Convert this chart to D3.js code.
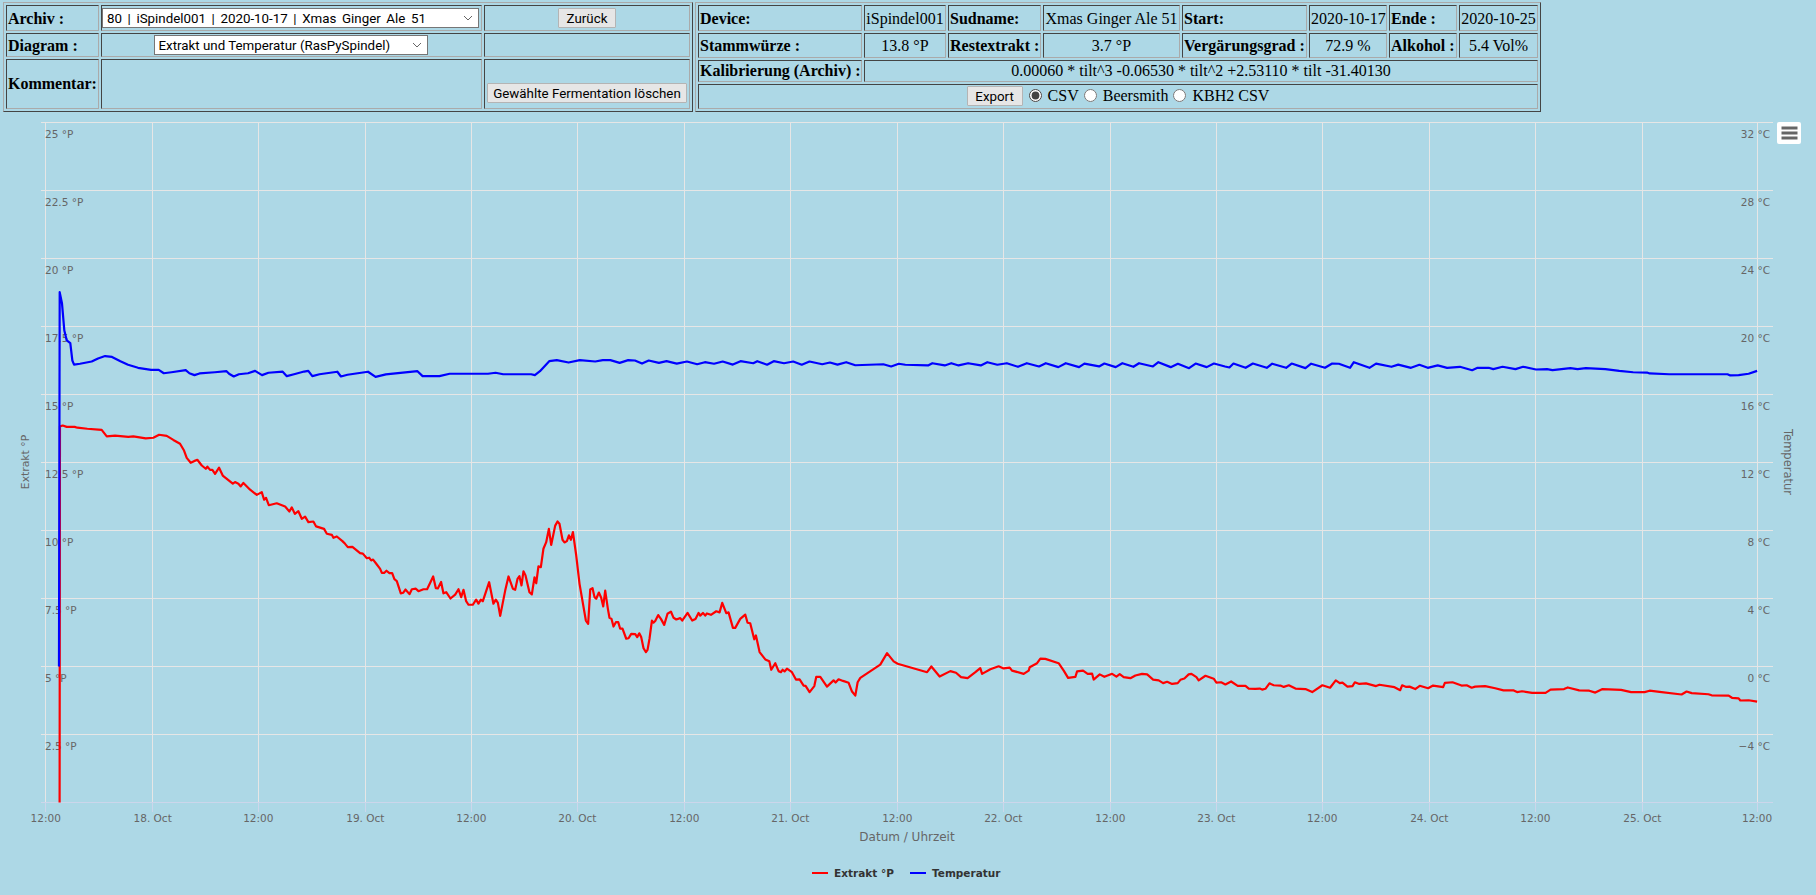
<!DOCTYPE html>
<html>
<head>
<meta charset="utf-8">
<title>Archiv</title>
<script src="https://cdn.jsdelivr.net/npm/d3@7"></script>
<style>
  html, body { margin: 0; padding: 0; background: #add8e6; overflow: hidden; }
  body { width: 1816px; height: 895px; position: relative; font-family: "Liberation Serif", serif; font-size: 16px; color: #000; }
  table.head { position: absolute; top: 2px; height: 110px; table-layout: fixed; border-collapse: separate; border-spacing: 2px; border: 1px solid; border-color: #aaa #444 #444 #aaa; box-sizing: border-box; }
  table.head td { border: 1px solid; border-color: #444 #aaa #aaa #444; padding: 0 1px; box-sizing: border-box; text-align: center; white-space: nowrap; overflow: hidden; }
  table.head td.l { text-align: left; font-weight: bold; }
  table.head tr.low td { padding-top: 2px; }
  select { appearance: none; -webkit-appearance: none; font: 13.33px Roboto, sans-serif; background: #fff url("data:image/svg+xml,%3Csvg xmlns='http://www.w3.org/2000/svg' width='10' height='6'%3E%3Cpath d='M1 1l4 4 4-4' fill='none' stroke='%23666' stroke-width='1'/%3E%3C/svg%3E") no-repeat right 5px center; border: 1px solid #767676; border-radius: 0; box-sizing: border-box; height: 20px; padding: 0 0 0 4px; margin: 0; color: #000; position: relative; left: -1px; }
  button { font: 13.33px Roboto, sans-serif; background: #e6e6e6; border: 1px solid #b4b4b4; border-radius: 1px; box-sizing: border-box; height: 20px; padding: 0; color: #000; }
  input[type=radio] { margin: 0 6px 0 5px; vertical-align: -1px; accent-color: #444; }
  #chart { position: absolute; left: 0; top: 0; }
  #chart text { font-family: "DejaVu Sans", sans-serif; }
  .grid line { stroke: #e6e6e6; stroke-width: 1; shape-rendering: crispEdges; }
  .grid .domain { display: none; }
  .tick-label { fill: #666; font-size: 10.5px; }
</style>
</head>
<body>
<svg id="chart" width="1816" height="895"></svg>

<table class="head" style="left:3px;width:690px">
  <colgroup><col style="width:93px"><col style="width:381px"><col style="width:206px"></colgroup>
  <tr class="low" style="height:26px">
    <td class="l">Archiv :</td>
    <td style="padding-top:0"><select style="width:377px;word-spacing:2.3px"><option>80 | iSpindel001 | 2020-10-17 | Xmas Ginger Ale 51</option></select></td>
    <td style="padding-top:0"><button style="width:58px">Zurück</button></td>
  </tr>
  <tr class="low" style="height:24px">
    <td class="l">Diagram :</td>
    <td style="padding-top:0"><select style="width:274px"><option>Extrakt und Temperatur (RasPySpindel)</option></select></td>
    <td></td>
  </tr>
  <tr style="height:50px">
    <td class="l">Kommentar:</td>
    <td></td>
    <td style="vertical-align:bottom;padding-bottom:5px"><button style="width:200px">Gewählte Fermentation löschen</button></td>
  </tr>
</table>

<table class="head" style="left:695px;width:846px">
  <colgroup><col style="width:164px"><col style="width:82px"><col style="width:93px"><col style="width:137px"><col style="width:125px"><col style="width:78px"><col style="width:68px"><col style="width:79px"></colgroup>
  <tr class="low" style="height:26px">
    <td class="l">Device:</td><td>iSpindel001</td><td class="l">Sudname:</td><td>Xmas Ginger Ale 51</td>
    <td class="l">Start:</td><td>2020-10-17</td><td class="l">Ende :</td><td>2020-10-25</td>
  </tr>
  <tr class="low" style="height:24px">
    <td class="l">Stammwürze :</td><td>13.8 °P</td><td class="l">Restextrakt :</td><td>3.7 °P</td>
    <td class="l">Vergärungsgrad :</td><td>72.9 %</td><td class="l">Alkohol :</td><td>5.4 Vol%</td>
  </tr>
  <tr style="height:22px">
    <td class="l">Kalibrierung (Archiv) :</td>
    <td colspan="7">0.00060 * tilt^3 -0.06530 * tilt^2 +2.53110 * tilt -31.40130</td>
  </tr>
  <tr style="height:25px">
    <td colspan="8"><button style="width:56px;margin-right:1px">Export</button><input type="radio" name="fmt" checked>CSV<input type="radio" name="fmt">Beersmith<input type="radio" name="fmt">KBH2 CSV</td>
  </tr>
</table>

<script>
// time (hours on the axis, see timeTicks) and values
const extraktHours = [
  1.56,1.60,1.91,2.36,3.25,3.55,4.67,5.90,6.28,6.85,
  7.78,9.27,9.83,11.22,12.08,12.72,13.58,14.32,15.07,15.52,
  15.82,16.27,16.64,17.01,17.51,17.96,18.14,18.44,18.70,19.00,
  19.45,19.86,20.99,21.24,21.62,21.88,22.18,22.93,23.68,24.24,
  24.50,24.72,25.03,25.92,26.86,27.34,27.61,27.95,28.35,28.73,
  29.10,29.47,30.03,30.34,31.23,31.54,32.10,32.28,32.66,33.29,
  33.59,33.89,34.41,34.79,35.27,35.58,36.03,36.28,36.51,36.73,
  37.15,37.52,37.71,37.97,38.23,38.56,38.87,39.12,39.39,39.84,
  40.10,40.36,40.81,41.08,41.53,41.82,42.38,42.79,43.47,43.77,
  43.99,44.36,44.62,44.93,45.41,45.94,46.31,46.61,46.87,47.17,
  47.43,47.92,48.29,48.55,48.82,49.04,49.75,50.23,50.50,50.73,
  50.99,51.55,51.92,52.41,52.67,52.93,53.15,53.38,53.60,53.83,
  54.27,54.54,54.84,55.03,55.28,55.55,55.84,56.15,56.45,56.71,
  57.16,57.42,57.64,57.98,58.20,58.47,58.70,58.92,59.15,59.52,
  59.89,60.60,60.86,61.09,61.35,61.57,61.76,62.06,62.32,62.55,
  62.77,63.07,63.25,63.48,63.70,63.97,64.23,64.45,64.71,65.13,
  65.39,65.69,66.14,66.36,66.59,66.81,67.07,67.34,67.52,67.74,
  68.01,68.19,68.38,68.72,69.02,69.39,69.76,70.14,70.44,70.74,
  71.19,71.41,72.01,72.53,72.90,73.24,73.43,73.74,73.99,74.18,
  74.63,75.23,75.60,75.90,76.35,76.61,77.10,77.36,77.92,78.48,
  78.74,79.04,79.49,79.68,80.09,80.73,81.18,81.40,81.85,82.22,
  82.49,82.67,82.89,83.16,83.72,84.17,84.58,85.03,85.25,85.70,
  86.23,86.45,86.90,87.65,88.39,88.62,88.95,89.45,90.08,90.46,
  90.83,91.09,91.39,93.63,94.39,95.13,95.58,98.88,99.36,100.29,
  101.49,102.13,102.69,103.43,104.30,104.85,105.05,105.98,106.91,107.47,
  108.15,108.41,109.72,110.28,110.39,111.22,111.59,112.15,113.64,114.21,
  114.70,115.52,115.71,116.38,116.90,117.39,117.57,118.25,118.77,119.64,
  120.12,120.49,120.94,121.69,122.25,123.00,123.57,124.24,124.87,125.36,
  125.81,126.37,127.00,127.30,127.75,128.23,128.54,129.10,129.35,130.11,
  131.04,131.34,131.87,132.35,132.99,133.73,134.60,134.97,135.72,136.20,
  136.47,136.84,137.29,137.77,138.52,138.90,139.46,140.21,141.33,142.09,
  143.23,144.09,144.73,145.18,145.48,146.04,146.61,146.87,147.37,148.12,
  149.25,149.63,151.32,151.96,152.18,152.64,153.00,153.65,154.15,155.09,
  155.65,156.78,156.97,157.83,158.84,159.42,159.98,160.37,161.49,162.62,
  163.55,164.70,165.07,165.63,166.76,168.27,168.83,170.34,170.76,172.04,
  173.17,173.85,174.66,176.74,177.87,179.38,179.94,181.06,183.53,184.09,
  184.66,186.54,186.90,188.81,189.18,189.93,190.12,191.05,192.00
];
const extraktValues = [
  0,13.83,13.86,13.81,13.81,13.78,13.74,13.71,13.70,13.46,
  13.49,13.44,13.46,13.39,13.41,13.52,13.48,13.33,13.19,12.94,
  12.67,12.49,12.55,12.60,12.39,12.27,12.35,12.23,12.23,12.08,
  12.31,12.02,11.72,11.78,11.72,11.62,11.75,11.50,11.31,11.41,
  11.13,11.20,10.93,11.00,10.88,10.70,10.85,10.61,10.71,10.43,
  10.51,10.31,10.33,10.15,10.06,9.88,9.84,9.73,9.78,9.61,
  9.51,9.39,9.40,9.30,9.17,9.15,8.98,9.00,8.90,8.93,
  8.75,8.59,8.44,8.44,8.52,8.43,8.43,8.21,8.14,7.69,
  7.71,7.83,7.66,7.84,7.86,7.77,7.84,7.84,8.31,7.88,
  7.87,8.11,7.69,7.73,7.50,7.64,7.84,7.55,7.82,7.40,
  7.27,7.27,7.46,7.31,7.46,7.40,8.10,7.31,7.46,7.34,
  6.86,7.79,8.31,7.86,7.82,8.22,8.32,7.98,8.50,8.35,
  7.73,7.65,8.28,8.06,8.68,8.65,9.33,9.57,10.06,9.47,
  10.18,10.33,10.25,9.66,9.56,9.61,9.82,9.66,9.94,9.08,
  8.04,6.69,6.57,7.83,7.88,7.55,7.49,7.72,7.53,7.21,
  7.79,7.12,6.79,6.75,6.47,6.63,6.63,6.39,6.39,6.02,
  6.04,6.20,6.19,6.08,6.22,6.08,5.67,5.53,5.61,6.02,
  6.69,6.61,6.67,6.89,6.75,6.53,6.94,7.02,6.79,6.73,
  6.78,6.69,6.97,6.69,6.75,6.97,6.87,6.97,6.87,6.95,
  6.90,7.03,6.99,7.34,6.96,6.99,6.42,6.42,6.75,6.91,
  6.61,6.59,6.00,6.14,5.53,5.26,5.19,4.88,5.12,4.83,
  4.79,4.88,4.82,4.92,4.79,4.52,4.53,4.30,4.29,4.06,
  4.28,4.62,4.62,4.26,4.49,4.41,4.53,4.47,4.40,4.08,
  3.93,4.42,4.58,5.07,5.49,5.19,5.10,4.79,5.00,4.63,
  4.83,4.77,4.61,4.57,4.79,4.94,4.73,4.90,5.01,4.93,
  4.96,4.85,4.73,4.85,4.97,5.12,5.29,5.28,5.12,4.85,
  4.58,4.62,4.82,4.85,4.73,4.74,4.52,4.71,4.62,4.73,
  4.63,4.72,4.61,4.57,4.67,4.73,4.71,4.52,4.49,4.39,
  4.44,4.36,4.39,4.51,4.56,4.71,4.73,4.61,4.49,4.66,
  4.55,4.41,4.42,4.34,4.45,4.29,4.29,4.19,4.18,4.19,
  4.15,4.18,4.38,4.31,4.30,4.25,4.31,4.19,4.17,4.06,
  4.31,4.22,4.49,4.39,4.41,4.26,4.28,4.42,4.36,4.38,
  4.28,4.33,4.24,4.13,4.31,4.25,4.26,4.17,4.29,4.20,
  4.30,4.24,4.40,4.42,4.30,4.31,4.22,4.26,4.28,4.20,
  4.12,4.12,4.06,4.09,4.03,4.03,4.15,4.17,4.23,4.12,
  4.11,4.04,4.17,4.14,4.06,4.06,4.11,4.07,3.97,4.08,
  4.02,3.98,3.94,3.93,3.85,3.83,3.75,3.76,3.71
];
const tempHours = [
  1.49,1.57,1.83,2.09,2.36,2.76,2.99,3.18,3.85,5.16,
  5.87,6.66,7.44,8.38,9.24,10.36,11.82,12.68,13.25,14.11,
  15.71,16.12,16.69,17.26,18.98,20.29,20.57,21.10,21.67,22.70,
  23.49,24.27,24.99,26.59,27.05,27.86,28.99,29.46,29.91,30.72,
  32.72,33.12,33.86,36.16,37.01,38.16,41.71,42.28,44.17,45.32,
  49.62,50.47,51.32,54.47,54.88,55.45,56.49,57.34,58.66,59.92,
  61.65,62.50,63.35,64.39,65.35,66.10,66.90,67.65,68.80,69.65,
  70.80,71.94,73.09,73.95,74.98,75.95,77.09,77.95,79.38,79.83,
  80.93,81.68,82.83,83.86,84.82,85.69,87.12,87.98,88.83,89.81,
  90.83,93.97,94.85,95.71,96.44,98.99,99.47,100.86,101.60,102.42,
  103.48,104.91,105.64,106.76,107.83,109.08,110.07,111.44,112.20,113.61,
  114.44,115.93,116.53,118.18,118.77,120.04,120.79,122.03,122.66,124.22,
  124.83,126.21,127.02,128.27,129.01,130.25,131.06,132.31,132.80,133.25,
  134.62,135.43,136.99,137.60,139.16,139.78,141.33,141.97,143.52,144.33,
  145.08,146.33,146.76,148.51,149.25,150.98,151.74,153.17,154.11,155.05,
  156.17,157.22,158.66,160.03,160.64,161.89,162.40,163.44,164.89,165.75,
  167.19,168.43,169.05,171.05,171.86,172.79,174.98,176.54,178.09,179.65,
  179.94,182.14,188.68,188.99,189.93,191.05,192.00
];
const tempValues = [
  0,22.02,21.35,19.76,19.18,19.02,18.00,17.76,17.81,17.94,
  18.12,18.26,18.21,17.96,17.75,17.57,17.45,17.45,17.25,17.31,
  17.43,17.25,17.14,17.24,17.31,17.37,17.22,17.06,17.19,17.25,
  17.39,17.14,17.28,17.34,17.08,17.19,17.35,17.39,17.08,17.19,
  17.34,17.06,17.16,17.34,17.04,17.18,17.37,17.08,17.08,17.22,
  17.22,17.28,17.19,17.19,17.14,17.37,17.96,18.02,17.88,18.02,
  17.94,18.02,18.02,17.86,18.02,18.00,17.82,18.00,17.86,17.96,
  17.82,17.94,17.78,17.90,17.81,17.94,17.76,17.96,17.84,17.96,
  17.75,17.96,17.84,17.94,17.75,17.94,17.78,17.88,17.76,17.90,
  17.72,17.78,17.65,17.81,17.75,17.71,17.84,17.71,17.84,17.71,
  17.84,17.71,17.90,17.75,17.84,17.63,17.84,17.65,17.84,17.61,
  17.84,17.61,17.82,17.65,17.82,17.61,17.84,17.63,17.84,17.65,
  17.90,17.61,17.81,17.55,17.82,17.61,17.82,17.65,17.59,17.82,
  17.57,17.82,17.57,17.81,17.57,17.82,17.55,17.81,17.57,17.82,
  17.81,17.57,17.90,17.57,17.82,17.63,17.76,17.57,17.75,17.57,
  17.71,17.57,17.63,17.43,17.57,17.57,17.49,17.63,17.49,17.63,
  17.47,17.49,17.43,17.55,17.49,17.55,17.49,17.39,17.31,17.29,
  17.24,17.19,17.19,17.12,17.14,17.22,17.39
];

const extraktTicks = [2.5, 5, 7.5, 10, 12.5, 15, 17.5, 20, 22.5, 25];
const tempTicks = [-4, 0, 4, 8, 12, 16, 20, 24, 28, 32];
// the first and last tick sit on the axis ends, so the spacing is not quite even
const timeTicks = [0, 12.00, 23.85, 35.86, 47.75, 59.64, 71.64, 83.54, 95.54, 107.43, 119.44, 131.33, 143.21, 155.22, 167.12, 179.12, 192];
const timeLabels = ['12:00', '18. Oct', '12:00', '19. Oct', '12:00', '20. Oct', '12:00', '21. Oct', '12:00', '22. Oct', '12:00', '23. Oct', '12:00', '24. Oct', '12:00', '25. Oct', '12:00'];

const legendItems = ['Extrakt °P', 'Temperatur'];
const seriesColors = ['#ff0000', '#0000ff'];

const svg = d3.select('#chart');
const plot = {left: 41, right: 1773, top: 122.5, bottom: 802.5};

const xScale = d3.scaleLinear().domain([0, 192]).range([45.7, 1757.1]);
const yExtrakt = d3.scaleLinear().domain([0, 25]).range([plot.bottom, plot.top]);
const yTemp = d3.scaleLinear().domain([-8, 32]).range([plot.bottom, plot.top]);

// vertical grid
svg.append('g')
    .attr('class', 'grid')
    .attr('transform', `translate(0,${plot.top})`)
    .call(d3.axisBottom(xScale).tickValues(timeTicks).offset(0)
      .tickSize(plot.bottom - plot.top).tickFormat(''));

// horizontal grid, from the left axis ticks
svg.append('g')
    .attr('class', 'grid')
    .attr('transform', `translate(${plot.left},0)`)
    .call(d3.axisRight(yExtrakt).tickValues(extraktTicks).offset(0)
      .tickSize(plot.right - plot.left).tickFormat(''));

// x axis
const xAxisG = svg.append('g')
    .attr('transform', `translate(0,${plot.bottom})`)
    .call(d3.axisBottom(xScale).tickValues(timeTicks).offset(0)
      .tickSize(9).tickPadding(3).tickFormat((d, i) => timeLabels[i]));
xAxisG.select('.domain').remove();
xAxisG.selectAll('line').attr('stroke', '#ccd6eb').attr('shape-rendering', 'crispEdges');
xAxisG.selectAll('text').attr('class', 'tick-label').attr('fill', null);
svg.append('line')
    .attr('x1', plot.left).attr('x2', plot.right)
    .attr('y1', plot.bottom).attr('y2', plot.bottom)
    .attr('stroke', '#ccd6eb')
    .attr('shape-rendering', 'crispEdges');

// y axes: labels only, they sit under their grid line
const yLeftG = svg.append('g')
    .attr('transform', `translate(45,0)`)
    .call(d3.axisRight(yExtrakt).tickValues(extraktTicks).offset(0)
      .tickSize(0).tickPadding(0).tickFormat(d => d + ' °P'));
yLeftG.select('.domain').remove();
yLeftG.selectAll('text').attr('class', 'tick-label').attr('fill', null).attr('dy', 15);

const yRightG = svg.append('g')
    .attr('transform', `translate(1770,0)`)
    .call(d3.axisLeft(yTemp).tickValues(tempTicks).offset(0)
      .tickSize(0).tickPadding(0).tickFormat(d => (d < 0 ? '\u2212' + (-d) : d) + ' °C'));
yRightG.select('.domain').remove();
yRightG.selectAll('text').attr('class', 'tick-label').attr('fill', null).attr('dy', 15);

// axis titles
svg.append('text')
    .attr('transform', 'translate(29,462) rotate(-90)')
    .attr('text-anchor', 'middle')
    .attr('fill', '#666')
    .style('font-size', '10.8px')
    .text('Extrakt °P');
svg.append('text')
    .attr('transform', 'translate(1784,462) rotate(90)')
    .attr('text-anchor', 'middle')
    .attr('fill', '#666')
    .style('font-size', '11.5px')
    .text('Temperatur');
svg.append('text')
    .attr('x', 907).attr('y', 841)
    .attr('text-anchor', 'middle')
    .attr('fill', '#666')
    .style('font-size', '12px')
    .text('Datum / Uhrzeit');

// series, temperature drawn last so it lies on top
const line = d3.line();
svg.append('path')
    .attr('d', line(extraktHours.map((h, i) => [xScale(h), yExtrakt(extraktValues[i])])))
    .attr('fill', 'none')
    .attr('stroke', seriesColors[0])
    .attr('stroke-width', 2.2)
    .attr('stroke-linejoin', 'round');
svg.append('path')
    .attr('d', line(tempHours.map((h, i) => [xScale(h), yTemp(tempValues[i])])))
    .attr('fill', 'none')
    .attr('stroke', seriesColors[1])
    .attr('stroke-width', 2.2)
    .attr('stroke-linejoin', 'round');

// legend
const legendX = [812, 910];
const legend = svg.selectAll('.legend')
    .data(legendItems)
  .join('g')
    .attr('class', 'legend')
    .attr('transform', (d, i) => `translate(${legendX[i]},873)`);
legend.append('line')
    .attr('x2', 16)
    .attr('stroke', (d, i) => seriesColors[i])
    .attr('stroke-width', 2);
legend.append('text')
    .attr('x', 22).attr('y', 4)
    .attr('fill', '#333')
    .style('font-size', '10.5px')
    .style('font-weight', 'bold')
    .text(d => d);

// menu button
const menu = svg.append('g').attr('transform', 'translate(1777,122)');
menu.append('rect')
    .attr('width', 24).attr('height', 22).attr('rx', 2)
    .attr('fill', '#fff');
menu.selectAll('.bar')
    .data([0, 1, 2])
  .join('line')
    .attr('class', 'bar')
    .attr('x1', 4.5).attr('x2', 20.5)
    .attr('y1', d => 6 + d * 5).attr('y2', d => 6 + d * 5)
    .attr('stroke', '#666')
    .attr('stroke-width', 3);
</script>
</body>
</html>
